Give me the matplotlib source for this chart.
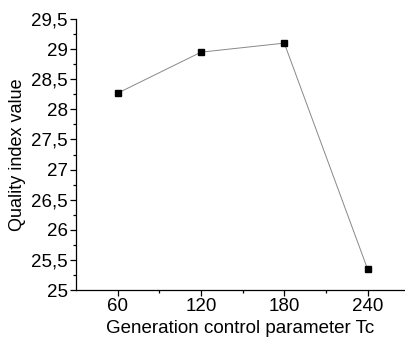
import matplotlib
matplotlib.use('Agg')
import matplotlib.pyplot as plt
from matplotlib.ticker import FuncFormatter, MultipleLocator, FixedLocator

plt.rcParams['font.family'] = ['Liberation Sans', 'DejaVu Sans']

# Quality index for each generation control parameter
tc_values = [60, 120, 180, 240]
quality = [28.27, 28.95, 29.1, 25.35]
x_ticks = [60, 120, 180, 240]

fig = plt.figure(figsize=(4.05, 3.4), dpi=100)
ax = fig.add_axes([0.188, 0.147, 0.812, 0.797])

ax.plot(tc_values, quality, color='#888888', lw=0.7, zorder=1)
ax.plot(tc_values, quality, ls='none', marker='s', ms=5, color='black', zorder=2)

ax.set_xlim(30, 267)
ax.set_ylim(25, 29.5)

ax.xaxis.set_major_locator(FixedLocator(x_ticks))
ax.xaxis.set_minor_locator(FixedLocator([90, 150, 210]))
ax.yaxis.set_major_locator(MultipleLocator(0.5))
ax.yaxis.set_minor_locator(MultipleLocator(0.25))
ax.yaxis.set_major_formatter(FuncFormatter(lambda v, p: f'{v:g}'.replace('.', ',')))

for side in ['top', 'right']:
    ax.spines[side].set_visible(False)
for side in ['left', 'bottom']:
    ax.spines[side].set_linewidth(0.9)

ax.tick_params(which='major', direction='out', length=4, width=0.9, labelsize=13.5, pad=2)
ax.tick_params(which='minor', direction='out', length=2.5, width=0.9)

ax.set_xlabel('Generation control parameter Tc', fontsize=13.5, labelpad=3)
ax.set_ylabel('Quality index value', fontsize=13, labelpad=4)

fig.savefig('out.png', dpi=100)
